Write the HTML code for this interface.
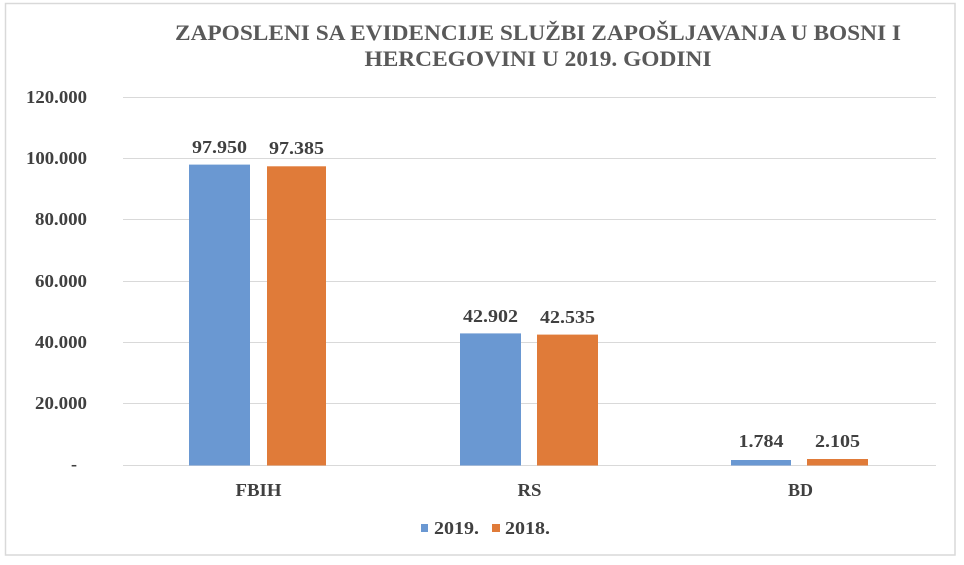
<!DOCTYPE html>
<html><head><meta charset="utf-8"><style>
html,body{margin:0;padding:0;background:#fff;}
svg{display:block;}
svg text{font-family:"Liberation Serif","Times New Roman","Tinos","Noto Serif CJK SC","DejaVu Serif",serif;font-weight:bold;}
</style></head><body>
<svg width="964" height="565" viewBox="0 0 964 565" xmlns="http://www.w3.org/2000/svg">
<rect x="0" y="0" width="964" height="565" fill="#fff"/>
<rect x="5.5" y="3.5" width="949.5" height="551.5" fill="#fff" stroke="#d9d9d9" stroke-width="1.5"/>
<!-- title -->
<text x="538" y="40" text-anchor="middle" font-size="22" fill="#595959" textLength="726" lengthAdjust="spacingAndGlyphs">ZAPOSLENI SA EVIDENCIJE SLUŽBI ZAPOŠLJAVANJA U BOSNI I</text>
<text x="538" y="66" text-anchor="middle" font-size="22" fill="#595959" textLength="347" lengthAdjust="spacingAndGlyphs">HERCEGOVINI  U 2019. GODINI</text>
<!-- gridlines -->
<g stroke="#d9d9d9" stroke-width="1">
<line x1="123" y1="97.5" x2="936" y2="97.5"/>
<line x1="123" y1="158.5" x2="936" y2="158.5"/>
<line x1="123" y1="219.5" x2="936" y2="219.5"/>
<line x1="123" y1="281.5" x2="936" y2="281.5"/>
<line x1="123" y1="342.5" x2="936" y2="342.5"/>
<line x1="123" y1="403.5" x2="936" y2="403.5"/>
<line x1="123" y1="465.5" x2="936" y2="465.5"/>
</g>
<!-- y labels -->
<g font-size="18" fill="#404040" text-anchor="end">
<text x="87" y="103" textLength="61" lengthAdjust="spacingAndGlyphs">120.000</text>
<text x="87" y="164" textLength="61" lengthAdjust="spacingAndGlyphs">100.000</text>
<text x="87" y="225" textLength="52" lengthAdjust="spacingAndGlyphs">80.000</text>
<text x="87" y="287" textLength="52" lengthAdjust="spacingAndGlyphs">60.000</text>
<text x="87" y="348" textLength="52" lengthAdjust="spacingAndGlyphs">40.000</text>
<text x="87" y="409" textLength="52" lengthAdjust="spacingAndGlyphs">20.000</text>
<text x="77" y="470">-</text>
</g>
<!-- bars -->
<rect x="189" y="164.6" width="61" height="300.9" fill="#6a98d2"/>
<rect x="267" y="166.3" width="59" height="299.2" fill="#e07b39"/>
<rect x="460" y="333.4" width="61" height="132.1" fill="#6a98d2"/>
<rect x="537" y="334.6" width="61" height="130.9" fill="#e07b39"/>
<rect x="731" y="460" width="60" height="5.5" fill="#6a98d2"/>
<rect x="807" y="459" width="61" height="6.5" fill="#e07b39"/>
<!-- value labels -->
<g font-size="18" fill="#404040" text-anchor="middle">
<text x="219.5" y="153" textLength="55" lengthAdjust="spacingAndGlyphs">97.950</text>
<text x="296.5" y="154" textLength="55" lengthAdjust="spacingAndGlyphs">97.385</text>
<text x="490.5" y="322" textLength="55" lengthAdjust="spacingAndGlyphs">42.902</text>
<text x="567.5" y="323" textLength="55" lengthAdjust="spacingAndGlyphs">42.535</text>
<text x="761" y="447" textLength="45" lengthAdjust="spacingAndGlyphs">1.784</text>
<text x="837.5" y="447" textLength="45" lengthAdjust="spacingAndGlyphs">2.105</text>
</g>
<!-- category labels -->
<g font-size="18" fill="#404040" text-anchor="middle">
<text x="258.5" y="496" textLength="46" lengthAdjust="spacingAndGlyphs">FBIH</text>
<text x="529.5" y="496" textLength="24" lengthAdjust="spacingAndGlyphs">RS</text>
<text x="800.5" y="496" textLength="25" lengthAdjust="spacingAndGlyphs">BD</text>
</g>
<!-- legend -->
<rect x="421" y="524" width="7" height="8" fill="#6a98d2"/>
<text x="434" y="534" font-size="18" fill="#404040" textLength="45" lengthAdjust="spacingAndGlyphs">2019.</text>
<rect x="492" y="524" width="8" height="8" fill="#e07b39"/>
<text x="505" y="534" font-size="18" fill="#404040" textLength="45" lengthAdjust="spacingAndGlyphs">2018.</text>
</svg>
</body></html>
